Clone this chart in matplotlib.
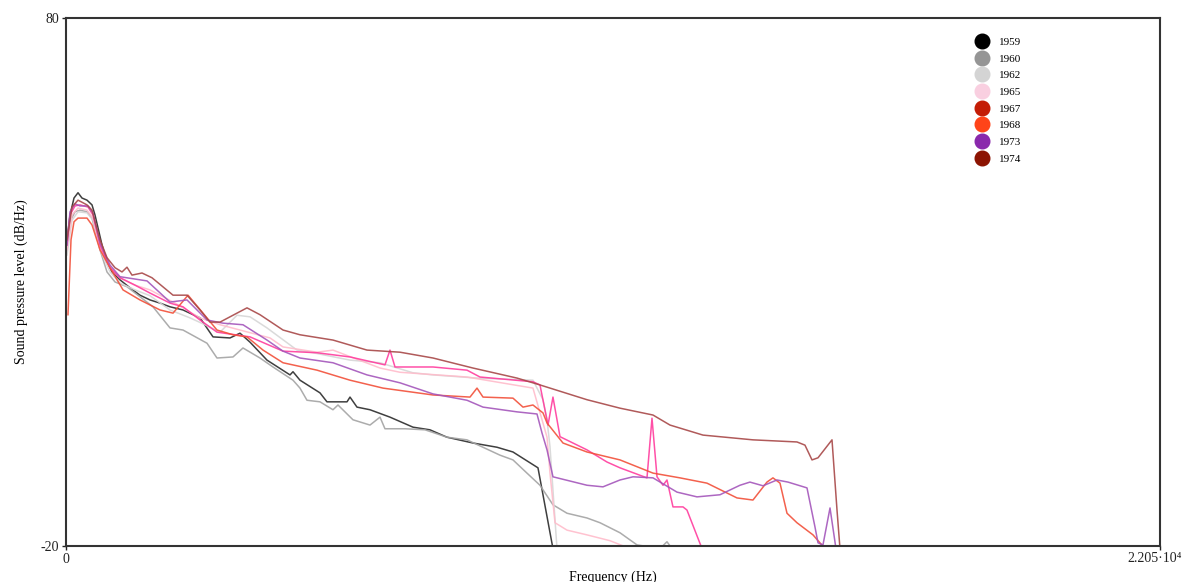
import matplotlib
matplotlib.use('Agg')
import matplotlib.pyplot as plt
from matplotlib.lines import Line2D

plt.rcParams['font.family'] = ['Liberation Serif', 'DejaVu Serif']

years = ['1959', '1960', '1962', '1965', '1967', '1968', '1973', '1974']
legend_colors = ['#000000', '#959595', '#d4d4d4', '#f9cfe0', '#c41d06', '#ff4419', '#8a28ac', '#8c1402']
line_colors = ['#2a2a2a', '#a3a3a3', '#d6d6d6', '#ffbccb', '#ff3d9e', '#f2503a', '#a456bb', '#a84848']

# frequency (Hz) and level (dB/Hz), one pair per year
f1959 = [20, 81, 161, 242, 322, 423, 524, 584, 726, 826, 927, 1088, 1290, 1491, 1693, 1895, 2096, 2358,
         2701, 2963, 3305, 3507, 3709, 4051, 4515, 4575, 4716, 5119, 5260, 5664, 5724, 5865, 6127, 6530,
         6994, 7336, 7679, 8203, 8687, 9009, 9513, 9815]
db1959 = [38.0, 42.7, 45.9, 46.9, 45.9, 45.5, 44.6, 42.7, 37.0, 33.8, 31.9, 30.4, 28.9, 27.5, 26.6, 26.0,
          25.3, 24.7, 23.2, 19.6, 19.4, 20.3, 18.6, 15.2, 12.4, 13.0, 11.4, 9.0, 7.3, 7.3, 8.2, 6.3, 5.8,
          4.4, 2.5, 2.0, 0.6, -0.5, -1.3, -2.2, -5.2, -20.5]

f1960 = [20, 81, 181, 282, 423, 524, 685, 826, 988, 1229, 1491, 1753, 2096, 2358, 2842, 3043, 3366, 3567,
         3910, 4172, 4575, 4716, 4857, 5119, 5381, 5482, 5784, 6127, 6329, 6429, 6833, 7236, 7679, 8082,
         8747, 9009, 9291, 9553, 9815, 10098, 10501, 10763, 11166, 11509, 11972, 12113, 12214]
db1960 = [36.1, 41.4, 43.3, 43.6, 43.3, 42.1, 36.1, 31.9, 30.0, 29.1, 27.2, 25.3, 21.3, 20.9, 18.4, 15.6,
          15.8, 17.5, 15.6, 13.9, 11.4, 9.9, 7.6, 7.3, 5.8, 6.7, 3.9, 2.9, 4.4, 2.2, 2.2, 2.0, 0.6, 0.1,
          -2.8, -3.7, -6.2, -8.5, -12.2, -13.8, -14.7, -15.6, -17.5, -19.8, -20.5, -19.2, -20.5]

f1962 = [20, 121, 242, 423, 544, 685, 887, 1088, 1391, 1693, 2096, 2499, 2802, 3104, 3447, 3709, 4051,
         4656, 4978, 5724, 6329, 6994, 7397, 8284, 9412, 9614, 9695, 9755, 9896]
db1962 = [35.1, 41.7, 43.3, 43.1, 41.7, 36.1, 31.9, 29.8, 28.5, 27.4, 24.7, 23.2, 21.9, 20.5, 23.7, 23.4,
          21.3, 17.1, 16.6, 15.2, 14.7, 12.8, 12.4, 11.8, 11.4, 7.7, 3.9, -1.2, -20.5]

f1965 = [20, 121, 242, 423, 544, 685, 887, 1088, 1391, 1693, 2197, 2701, 3104, 3507, 4112, 4374, 5059,
         5381, 6329, 6732, 8082, 9412, 9695, 9755, 9856, 10098, 10501, 10964, 11367]
db1965 = [36.1, 42.7, 44.0, 43.6, 42.1, 36.4, 32.7, 30.8, 29.4, 28.5, 26.0, 23.2, 21.9, 20.9, 19.4, 17.7,
          16.7, 17.1, 13.7, 12.9, 12.0, 9.9, 0.6, -6.2, -15.6, -17.0, -17.9, -19.0, -20.5]

f1967 = [20, 81, 181, 282, 443, 544, 685, 887, 1088, 1391, 1693, 2096, 2358, 2701, 3043, 3709, 4374,
         5059, 5724, 6429, 6530, 6631, 7397, 8082, 8344, 9412, 9553, 9715, 9815, 9957, 10501, 10904,
         11166, 11710, 11811, 11912, 12033, 12113, 12234, 12436, 12516, 12819]
db1967 = [37.0, 42.7, 44.4, 44.6, 44.2, 42.7, 37.0, 32.7, 30.8, 29.4, 27.9, 26.0, 25.3, 22.8, 20.5, 19.6,
          16.9, 16.6, 15.8, 14.3, 17.1, 13.9, 13.9, 13.3, 12.0, 11.1, 10.5, 2.9, 8.2, 0.7, -1.8, -4.1,
          -5.2, -7.1, 4.2, -6.9, -8.5, -7.5, -12.6, -12.6, -13.2, -20.5]

f1968 = [40, 101, 161, 242, 423, 524, 685, 887, 1149, 1491, 1895, 2157, 2459, 2761, 3043, 3366, 3648,
         3971, 4374, 5059, 5724, 6389, 7397, 8143, 8284, 8405, 9009, 9211, 9412, 9614, 9695, 10017,
         10501, 11166, 11831, 12375, 12919, 13524, 13846, 14128, 14249, 14391, 14532, 14733, 15056, 15298]
db1968 = [23.8, 38.0, 41.4, 42.1, 42.1, 40.8, 36.1, 32.7, 28.5, 26.6, 24.7, 24.1, 27.5, 24.1, 20.9, 20.0,
          19.6, 17.1, 14.7, 13.3, 11.4, 9.9, 8.6, 8.2, 9.9, 8.2, 8.0, 6.3, 6.7, 5.2, 3.3, -0.5, -2.2,
          -3.7, -6.2, -7.1, -8.1, -10.9, -11.3, -7.9, -7.1, -8.1, -13.8, -15.6, -17.9, -20.5]

f1973 = [20, 81, 181, 282, 443, 544, 685, 887, 1088, 1633, 2096, 2439, 2842, 3164, 3567, 4051, 4374,
         4716, 5381, 6067, 6732, 7397, 8082, 8405, 9090, 9493, 9594, 9695, 9815, 10158, 10501, 10823,
         11166, 11428, 11831, 12315, 12718, 13181, 13584, 13785, 14048, 14330, 14552, 14935, 15096,
         15157, 15257, 15399, 15519]
db1973 = [37.0, 43.3, 44.8, 44.4, 44.4, 43.1, 37.4, 33.2, 31.0, 30.2, 26.2, 26.6, 22.8, 22.2, 21.9, 19.0,
          16.9, 15.6, 14.7, 12.4, 10.9, 8.8, 7.6, 6.3, 5.4, 5.0, 1.4, -1.8, -6.9, -7.7, -8.5, -8.8, -7.5,
          -6.9, -7.1, -9.8, -10.7, -10.3, -8.5, -7.9, -8.6, -7.5, -7.9, -9.0, -16.4, -19.4, -19.8, -12.8,
          -20.5]

f1974 = [20, 121, 242, 423, 524, 685, 826, 988, 1129, 1229, 1330, 1532, 1733, 2157, 2439, 2701, 2902,
         3104, 3648, 3910, 4374, 4716, 5381, 6067, 6732, 7397, 8203, 9090, 9553, 10501, 11166, 11831,
         12174, 12839, 13846, 14733, 14894, 15036, 15157, 15439, 15540, 15600]
db1974 = [38.0, 44.2, 45.5, 44.6, 43.6, 38.0, 34.6, 32.7, 31.9, 32.8, 31.3, 31.7, 30.8, 27.5, 27.5, 24.7,
          22.4, 22.4, 25.1, 23.8, 20.9, 20.0, 19.0, 17.1, 16.7, 15.6, 13.7, 11.8, 10.5, 7.7, 6.1, 4.8,
          2.9, 1.0, 0.1, -0.3, -0.9, -3.7, -3.3, 0.1, -13.2, -20.5]

freqs = [f1959, f1960, f1962, f1965, f1967, f1968, f1973, f1974]
levels = [db1959, db1960, db1962, db1965, db1967, db1968, db1973, db1974]

fig = plt.figure(figsize=(11.85, 5.82), dpi=100)
ax = fig.add_axes([0.0557, 0.0619, 0.9232, 0.9072])

for f, db, c in zip(freqs, levels, line_colors):
    ax.plot(f, db, color=c, lw=1.1, alpha=0.9)

ax.set_xlim(0, 22050)
ax.set_ylim(-20, 80)
ax.set_xticks([0, 22050])
ax.set_xticklabels(['0', ''])
ax.set_yticks([-20, 80])
ax.set_yticklabels(['-20', '80'])
ax.tick_params(direction='out', length=3, width=1, labelsize=10, pad=2, colors='#222222')
# the upper x limit label sits a little to the left of the figure edge
ax.annotate('2.205·10⁴', xy=(1, 0), xycoords='axes fraction', xytext=(15.5, -4),
            textcoords='offset points', ha='right', va='top', fontsize=10, color='#222222')
for s in ax.spines.values():
    s.set_linewidth(1.5)
    s.set_color('#333333')

ax.set_xlabel('Frequency (Hz)', fontsize=10, labelpad=3)
ax.set_ylabel('Sound pressure level (dB/Hz)', fontsize=10, labelpad=9)

# legend uses the dot colours shown in the key
handles = [Line2D([], [], ls='none', marker='o', ms=10.5, mfc=c, mec=c) for c in legend_colors]
ax.legend(handles, years, loc='upper left', bbox_to_anchor=(0.823, 0.972), frameon=False,
          fontsize=8, labelspacing=0.62, handletextpad=0.5, borderaxespad=0)

fig.savefig('out.png', dpi=100)
